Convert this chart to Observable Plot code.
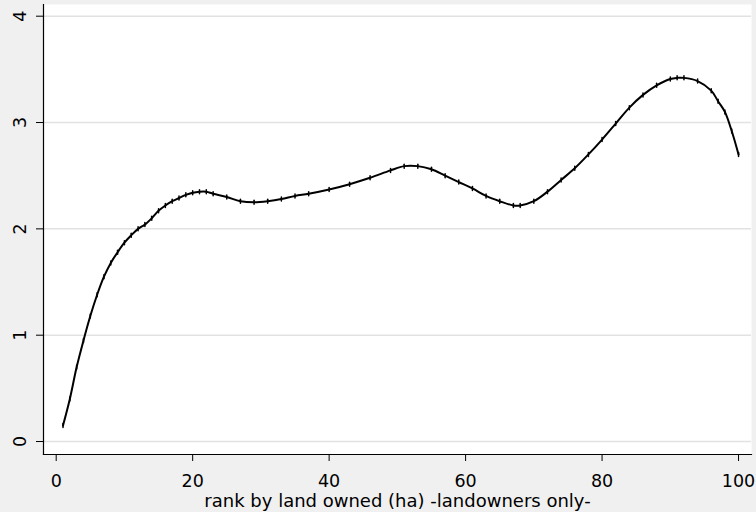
<!DOCTYPE html>
<html>
<head>
<meta charset="utf-8">
<script src="https://cdn.jsdelivr.net/npm/d3@7"></script>
<script src="https://cdn.jsdelivr.net/npm/@observablehq/plot@0.6"></script>
<style>
  html, body { margin: 0; padding: 0; background: #f0f0f0; }
  #chart svg { display: block; background: #f0f0f0; }
</style>
</head>
<body>
<div id="chart"></div>
<script>
const rank = [1,2,3,4,5,6,7,8,9,10,11,12,13,14,15,16,17,18,19,20,21,22,23,25,27,29,31,33,35,37,40,43,46,49,51,53,55,57,59,61,63,65,67,68,70,72,74,76,78,80,82,84,86,88,90,91,92,94,96,97,98,99,100];
const value = [0.15,0.40,0.70,0.95,1.18,1.38,1.55,1.68,1.78,1.87,1.94,2.00,2.04,2.10,2.17,2.22,2.26,2.29,2.32,2.34,2.35,2.35,2.33,2.30,2.26,2.25,2.26,2.28,2.31,2.33,2.37,2.42,2.48,2.55,2.59,2.59,2.56,2.50,2.44,2.38,2.31,2.26,2.22,2.22,2.26,2.35,2.46,2.57,2.70,2.84,2.99,3.14,3.26,3.35,3.41,3.42,3.42,3.39,3.30,3.20,3.10,2.92,2.70];
const xTicks = [0,20,40,60,80,100];
const yTicks = [0,1,2,3,4];
const xTitle = "rank by land owned (ha) -landowners only-";

const data = rank.map((r, i) => ({rank: r, value: value[i]}));
const font = "DejaVu Sans, sans-serif";

const tickShape = {draw(context, l) { context.moveTo(0, 0); context.lineTo(0, -l); }};

const chart = Plot.plot({
  width: 756,
  height: 512,
  marginLeft: 43,
  marginRight: 5,
  marginTop: 4,
  marginBottom: 58,
  style: {background: "#f0f0f0", fontFamily: font, fontSize: "17.5px", color: "black"},
  x: {domain: [-1.86, 101.9]},
  y: {domain: [-0.122, 4.11]},
  marks: [
    Plot.frame({fill: "white", stroke: "none"}),
    Plot.gridY(yTicks, {stroke: "#e2e2e2", strokeOpacity: 1, strokeWidth: 1.5}),
    Plot.frame({anchor: "left", stroke: "black", strokeWidth: 1.2}),
    Plot.frame({anchor: "bottom", stroke: "black", strokeWidth: 1.2}),
    Plot.axisY(yTicks, {tickSize: 7, label: null, stroke: "black", text: null}),
    Plot.axisY(yTicks, {tickSize: 0, tickPadding: 5, dx: -13, tickRotate: -90, tickFormat: "d", textAnchor: "middle", lineAnchor: "bottom", fontSize: 17.5, label: null}),
    Plot.axisX(xTicks, {tickSize: 7, tickPadding: 13, tickFormat: "d", fontSize: 17.5, label: null}),
    Plot.axisX({ticks: [], tickSize: 0, label: xTitle, labelAnchor: "center", labelOffset: 52, labelArrow: "none", fontSize: 18}),
    Plot.line(data, {x: "rank", y: "value", stroke: "black", strokeWidth: 2, curve: "catmull-rom"}),
    Plot.vector(data, {x: "rank", y: "value", length: 4, rotate: 0, anchor: "middle", shape: tickShape, stroke: "black", strokeWidth: 1.5})
  ]
});
document.getElementById("chart").appendChild(chart);
</script>
</body>
</html>
